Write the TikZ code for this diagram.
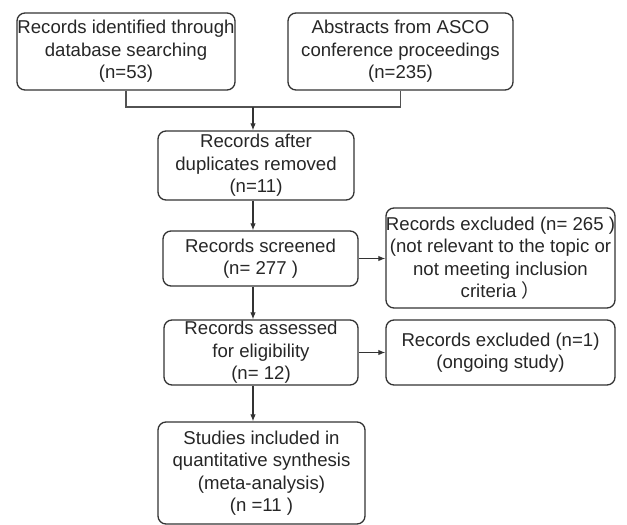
\documentclass[tikz,border=0pt]{standalone}
\usepackage{fontspec}
\setmainfont{Liberation Sans}
\newfontfamily\cjk{Noto Sans CJK SC}
\usetikzlibrary{arrows.meta}
\definecolor{linec}{HTML}{333333}
\definecolor{textc}{HTML}{262626}
\begin{document}
\begin{tikzpicture}[x=1pt,y=-1pt,
  box/.style={draw=linec, line width=1.3pt, rounded corners=8pt, inner sep=0pt, align=center,
    font=\fontsize{18.6}{22.5}\selectfont, text=textc},
  arr/.style={draw=linec, line width=1.1pt, -{Latex[length=7pt,width=5.5pt]}},
  ln/.style={draw=linec!85, line width=1.1pt}]
\useasboundingbox (0,0) rectangle (627,525);
\node[box, minimum width=218pt, minimum height=77pt] (b1) at (126,51.5) {Records identified through\\database searching\\(n=53)};
\node[box, minimum width=225pt, minimum height=77pt] (b2) at (400.5,51.5) {Abstracts from ASCO\\conference proceedings\\(n=235)};
\node[box, minimum width=196pt, minimum height=69pt] (b3) at (256,165.5) {Records after\\duplicates removed\\(n=11)};
\node[box, minimum width=195pt, minimum height=55pt] (b4) at (260.5,258.5) {Records screened\\(n= 277 )};
\node[box, minimum width=229pt, minimum height=100pt] (e1) at (500.5,258) {Records excluded (n= 265 )\\(not relevant to the topic or\\not meeting inclusion\\criteria {\cjk ）}};
\node[box, minimum width=194pt, minimum height=65pt] (b5) at (261,352.5) {Records assessed\\for eligibility\\(n= 12)};
\node[box, minimum width=229pt, minimum height=65pt] (e2) at (500.5,352.5) {Records excluded (n=1)\\(ongoing study)};
\node[box, minimum width=207pt, minimum height=102pt] (b6) at (261.5,473) {Studies included in\\quantitative synthesis\\(meta-analysis)\\(n =11 )};
\coordinate (m) at (253,107);
\draw[ln] (b1.south) -- (b1.south |- m) -- (b2.south |- m) -- (b2.south);
\draw[arr] (m) -- (m |- b3.north);
\draw[arr] (b3.south -| m) -- (b4.north -| m);
\draw[arr] (b4.south -| m) -- (b5.north -| m);
\draw[arr] (b5.south -| m) -- (b6.north -| m);
\draw[arr] (b4.east) -- (e1.west |- b4.east);
\draw[arr] (b5.east) -- (e2.west);
\end{tikzpicture}
\end{document}
